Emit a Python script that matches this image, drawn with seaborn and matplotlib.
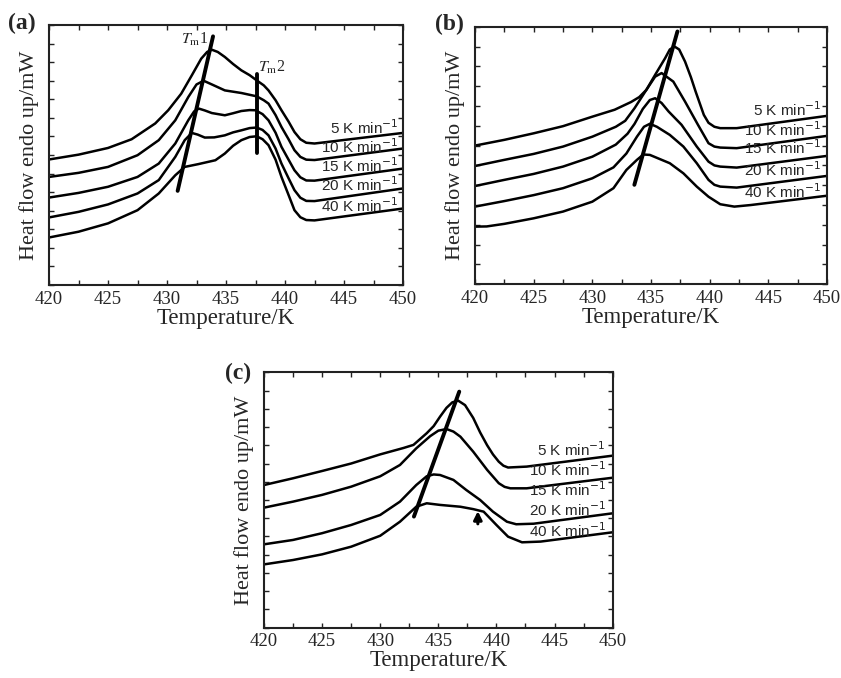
import numpy as np
import pandas as pd
import matplotlib
matplotlib.use("Agg")
import matplotlib.pyplot as plt
import seaborn as sns
from matplotlib.ticker import MultipleLocator, NullFormatter

# ---------------- data ----------------
rate_labels = ["5", "10", "15", "20", "40"]

# panel (a)
Ta1 = [420, 422.5, 425, 427, 429, 430.1, 431.2, 432.1, 432.9, 433.4, 433.8, 434.3, 434.9, 435.6, 436.3, 437.0, 437.6, 438.2, 438.6, 439.2, 439.7, 440.3, 440.8, 441.3, 441.8, 442.5, 450]
Ha1 = [6.76, 7.02, 7.38, 7.85, 8.7, 9.41, 10.3, 11.29, 12.19, 12.55, 12.67, 12.55, 12.28, 11.9, 11.56, 11.3, 11.02, 10.75, 10.48, 9.95, 9.41, 8.8, 8.24, 7.85, 7.66, 7.62, 8.19]
Ta2 = [420, 422.5, 425, 427.5, 429.3, 430.7, 431.8, 432.5, 433.1, 433.8, 434.9, 436.3, 437.6, 438.2, 438.6, 439.2, 439.7, 440.3, 440.8, 441.3, 441.8, 442.5, 450]
Ha2 = [5.82, 6.04, 6.36, 6.99, 7.8, 8.87, 10.12, 10.8, 11.0, 10.8, 10.48, 10.34, 10.16, 9.95, 9.77, 9.15, 8.51, 7.85, 7.26, 6.9, 6.75, 6.73, 7.35]
Ta3 = [420, 422.5, 425, 427.5, 429.3, 430.7, 431.8, 432.3, 432.7, 433.2, 433.8, 434.9, 435.6, 436.3, 437.0, 437.5, 438.1, 438.6, 439.2, 439.7, 440.3, 440.8, 441.3, 441.8, 442.5, 450]
Ha3 = [4.71, 4.96, 5.29, 5.82, 6.54, 7.62, 8.87, 9.35, 9.5, 9.4, 9.26, 9.14, 9.25, 9.37, 9.42, 9.41, 9.2, 8.87, 8.2, 7.44, 6.75, 6.18, 5.8, 5.63, 5.62, 6.27]
Ta4 = [420, 422.5, 425, 427.5, 429.3, 430.7, 431.5, 432.1, 432.6, 433.2, 434.0, 434.9, 435.6, 436.3, 437.0, 437.6, 438.1, 438.6, 439.2, 439.7, 440.3, 440.8, 441.3, 441.8, 442.5, 450]
Ha4 = [3.64, 3.94, 4.34, 4.93, 5.65, 6.9, 7.8, 8.19, 8.1, 7.94, 7.95, 8.06, 8.22, 8.33, 8.45, 8.48, 8.35, 8.06, 7.35, 6.54, 5.75, 5.11, 4.7, 4.53, 4.52, 5.2]
Ta5 = [420, 422.5, 425, 427.5, 429.3, 430.7, 431.5, 432.65, 434.1, 434.9, 435.6, 436.3, 437.0, 437.6, 438.1, 438.6, 439.2, 439.7, 440.3, 440.8, 441.3, 441.8, 442.5, 450]
Ha5 = [2.56, 2.87, 3.32, 4.03, 4.93, 5.91, 6.36, 6.51, 6.72, 7.08, 7.5, 7.8, 7.97, 8.01, 7.85, 7.53, 6.75, 5.82, 4.85, 4.03, 3.65, 3.5, 3.48, 4.12]

# panel (b)
Tb1 = [420, 422.5, 425, 427.5, 430, 431.9, 433.3, 434.0, 434.6, 435.35, 436.2, 436.6, 437.0, 437.4, 437.9, 438.4, 438.8, 439.5, 439.9, 440.4, 440.9, 442.3, 450]
Hb1 = [7.0, 7.29, 7.62, 7.98, 8.46, 8.81, 9.2, 9.45, 9.81, 10.57, 11.41, 11.85, 12.0, 11.85, 11.24, 10.45, 9.73, 8.55, 8.15, 7.95, 7.88, 7.88, 8.5]
Tb2 = [420, 422.5, 425, 427.5, 430, 432, 432.8, 433.6, 434.6, 435.35, 435.9, 436.9, 437.9, 439.0, 439.9, 440.4, 440.9, 442.3, 450]
Hb2 = [5.97, 6.28, 6.58, 6.95, 7.45, 7.95, 8.25, 8.89, 9.81, 10.48, 10.66, 10.23, 9.22, 8.05, 7.12, 6.95, 6.9, 6.87, 7.49]
Tb3 = [420, 422.5, 425, 427.5, 430, 432, 433.0, 433.6, 434.3, 434.9, 435.35, 435.9, 436.5, 437.6, 438.9, 439.9, 440.4, 440.9, 442.3, 450]
Hb3 = [4.96, 5.27, 5.57, 5.94, 6.44, 7.05, 7.6, 8.1, 8.85, 9.3, 9.39, 9.15, 8.72, 8.05, 6.95, 6.19, 6.0, 5.94, 5.89, 6.48]
Tb4 = [420, 422.5, 425, 427.5, 430, 431.8, 432.9, 433.8, 434.4, 434.9, 435.5, 436.6, 437.76, 438.9, 439.9, 440.4, 440.9, 442.3, 450]
Hb4 = [3.92, 4.2, 4.5, 4.85, 5.35, 5.9, 6.6, 7.45, 7.95, 8.1, 7.95, 7.54, 6.95, 6.11, 5.27, 5.02, 4.93, 4.88, 5.47]
Tb5 = [420, 421, 422.5, 425, 427.5, 430, 431.8, 432.9, 433.8, 434.35, 434.9, 436.6, 437.76, 438.9, 439.9, 440.9, 442.1, 443.5, 450]
Hb5 = [2.91, 2.92, 3.05, 3.33, 3.67, 4.17, 4.85, 5.77, 6.28, 6.55, 6.53, 6.11, 5.6, 4.93, 4.42, 4.04, 3.92, 4.0, 4.47]

# panel (c)  (four measured curves)
Tc1 = [420, 422.5, 425, 427.5, 430, 432.0, 432.86, 434.0, 434.6, 435.15, 435.7, 436.2, 436.7, 437.3, 438.0, 438.6, 439.2, 439.7, 440.2, 440.6, 441.0, 442.6, 450]
Hc1 = [7.82, 8.19, 8.59, 9.0, 9.5, 9.85, 10.02, 10.66, 11.05, 11.57, 12.05, 12.35, 12.45, 12.2, 11.5, 10.7, 10.0, 9.5, 9.1, 8.88, 8.78, 8.83, 9.43]
Tc2 = [420, 422.5, 425, 427.5, 430, 431.7, 433.1, 434.3, 435.0, 435.7, 436.3, 436.9, 438.0, 439.2, 440.2, 440.7, 441.2, 442.6, 450]
Hc2 = [6.58, 6.91, 7.28, 7.73, 8.3, 8.92, 9.83, 10.5, 10.8, 10.89, 10.75, 10.47, 9.65, 8.65, 7.92, 7.72, 7.64, 7.64, 8.22]
Tc3 = [420, 422.5, 425, 427.5, 430, 431.7, 433.1, 434.0, 434.6, 435.15, 436.3, 437.4, 438.6, 439.7, 440.9, 441.7, 443.2, 450]
Hc3 = [4.57, 4.81, 5.18, 5.63, 6.18, 6.91, 7.82, 8.3, 8.4, 8.37, 8.1, 7.55, 7.0, 6.36, 5.81, 5.67, 5.7, 6.27]
Tc4 = [420, 422.5, 425, 427.5, 430, 431.7, 433.1, 434.0, 435.15, 436.9, 438.0, 438.9, 440.0, 441.0, 442.2, 443.8, 450]
Hc4 = [3.47, 3.71, 4.02, 4.44, 5.04, 5.81, 6.63, 6.82, 6.73, 6.63, 6.5, 6.36, 5.63, 4.99, 4.68, 4.72, 5.23]

# guide lines (Tm) endpoints and label anchors
a_tm1_T = [430.9, 433.9]; a_tm1_H = [5.07, 13.39]
a_tm2_T = [437.6, 437.6]; a_tm2_H = [7.11, 11.34]
b_tm_T = [433.58, 437.25]; b_tm_H = [5.02, 12.76]
c_tm_T = [432.9, 436.8]; c_tm_H = [6.09, 12.94]
c_arrow_T = 438.4; c_arrow_H = [5.54, 6.54]

a_lab_T = 449.6; a_lab_H = [8.45, 7.44, 6.45, 5.38, 4.30]
b_lab_T = 449.5; b_lab_H = [8.8, 7.79, 6.9, 5.77, 4.69]
c_lab_T = 449.4; c_lab_H = [9.74, 8.68, 7.59, 6.45, 5.30]

xticks_major = [420, 425, 430, 435, 440, 445, 450]

# ---------------- figure ----------------
sns.set_style("ticks", {"xtick.direction": "in", "ytick.direction": "in"})
plt.rcParams["font.family"] = ["Liberation Serif", "DejaVu Serif"]
plt.rcParams["mathtext.fontset"] = "stix"

fig = plt.figure(figsize=(8.41, 6.78), dpi=100)

def frame(curves_T, curves_H, labels):
    rows = []
    for lab, T, H in zip(labels, curves_T, curves_H):
        for t, h in zip(T, H):
            rows.append({"T": t, "HF": h, "rate": lab})
    return pd.DataFrame(rows)

def style_axes(ax, ytop):
    ax.set_xlim(420, 450)
    ax.set_ylim(0, ytop)
    ax.xaxis.set_major_locator(plt.FixedLocator(xticks_major))
    ax.xaxis.set_minor_locator(MultipleLocator(2.5))
    ax.yaxis.set_major_locator(MultipleLocator(1))
    ax.yaxis.set_major_formatter(NullFormatter())
    ax.tick_params(which="both", direction="in", top=True, right=True,
                   length=3.5, width=1.0, color="#222222")
    ax.tick_params(axis="x", which="major", labelsize=13.5, pad=4)
    for s in ax.spines.values():
        s.set_linewidth(1.5)
        s.set_color("#222222")
        s.set_visible(True)
    ax.set_xlabel("Temperature/K", fontsize=16.5, labelpad=0)
    ax.set_ylabel("Heat flow endo up/mW", fontsize=16, labelpad=4)

def draw_curves(ax, df):
    sns.lineplot(data=df, x="T", y="HF", units="rate", estimator=None, sort=False,
                 color="black", lw=1.8, ax=ax, legend=False)

def guide(ax, T, H):
    sns.lineplot(x=T, y=H, estimator=None, sort=False, color="black", lw=2.8, ax=ax)

def rate_texts(ax, T, Hs):
    for lab, h in zip(rate_labels, Hs):
        ax.text(T, h, f"{lab} K min$^{{-1}}$", ha="right", va="center",
                fontsize=11, family="Liberation Sans", math_fontfamily="dejavusans")

# (a)
axa = fig.add_axes([0.0583, 0.5796, 0.4209, 0.3835])
dfa = frame([Ta1, Ta2, Ta3, Ta4, Ta5], [Ha1, Ha2, Ha3, Ha4, Ha5], rate_labels)
draw_curves(axa, dfa)
guide(axa, a_tm1_T, a_tm1_H)
guide(axa, a_tm2_T, a_tm2_H)
axa.text(433.5, 13.2, r"$T_{\mathrm{m}}$1", ha="right", va="center", fontsize=11.5)
axa.text(437.7, 11.7, r"$T_{\mathrm{m}}$2", ha="left", va="center", fontsize=11.5)
rate_texts(axa, a_lab_T, a_lab_H)
style_axes(axa, 14)

# (b)
axb = fig.add_axes([0.5648, 0.5807, 0.4186, 0.3799])
dfb = frame([Tb1, Tb2, Tb3, Tb4, Tb5], [Hb1, Hb2, Hb3, Hb4, Hb5], rate_labels)
draw_curves(axb, dfb)
guide(axb, b_tm_T, b_tm_H)
rate_texts(axb, b_lab_T, b_lab_H)
style_axes(axb, 13)

# (c)
axc = fig.add_axes([0.3139, 0.0742, 0.4146, 0.3767])
dfc = frame([Tc1, Tc2, Tc3, Tc4], [Hc1, Hc2, Hc3, Hc4], rate_labels[:4])
draw_curves(axc, dfc)
guide(axc, c_tm_T, c_tm_H)
axc.annotate("", xy=(c_arrow_T, c_arrow_H[1]), xytext=(c_arrow_T, c_arrow_H[0]),
             arrowprops=dict(arrowstyle="-|>", color="black", lw=2.2, mutation_scale=12))
rate_texts(axc, c_lab_T, c_lab_H)
style_axes(axc, 14)

# panel letters
fig.text(0.0262, 0.966, "(a)", fontsize=17, fontweight="bold", ha="center", va="center")
fig.text(0.535, 0.9646, "(b)", fontsize=17, fontweight="bold", ha="center", va="center")
fig.text(0.283, 0.4499, "(c)", fontsize=17, fontweight="bold", ha="center", va="center")

fig.savefig("out.png", dpi=100)
